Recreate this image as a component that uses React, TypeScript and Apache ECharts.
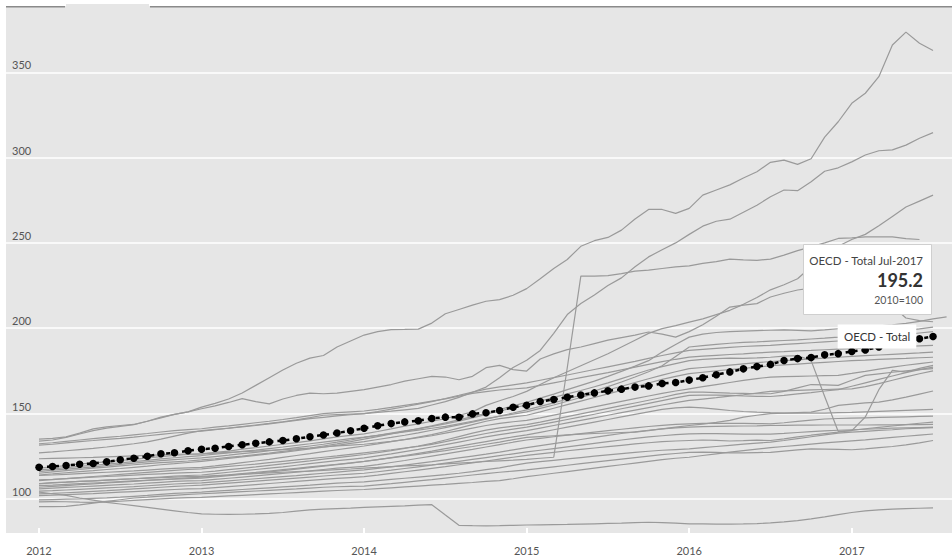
import { useEffect, useRef } from "react";
import * as echarts from "echarts";

// ---- axis / label data ----
const startYear = 2012;
const monthNames = ["Jan", "Feb", "Mar", "Apr", "May", "Jun", "Jul", "Aug", "Sep", "Oct", "Nov", "Dec"];
const yearTicks = [0, 12, 24, 36, 48, 60];
const gridValues = [100, 150, 200, 250, 300, 350];
const baseNote = "2010=100";
const totalName = "OECD - Total";

// ---- OECD total (monthly from Jan-2012) ----
const oecd = [
  118.5, 119, 119.5, 120.3, 120.7, 121.7, 122.9, 123.8, 125, 126.4, 127, 128.2,
  129.1, 129.7, 130.7, 131.7, 132.6, 133.4, 134.2, 135.2, 136.4, 137.4, 138.6, 139.9,
  141.4, 142.9, 144.1, 145.1, 145.8, 147.1, 147.9, 147.8, 149.8, 150.5, 151.8, 153.7,
  154.8, 157.1, 158.2, 159.6, 160.9, 162.1, 163.3, 164.3, 165.5, 166.2, 167.6, 168.2,
  169.6, 171, 172.7, 174.4, 176.2, 177.5, 178.8, 181.1, 182.2, 182.8, 184.4, 185.1,
  186.4, 187.2, 189, 190.6, 192.2, 193.8, 195.2,
];

// ---- individual countries (monthly from Jan-2012) ----
const lineA = [
  135, 135.5, 136.3, 138.5, 141, 142.2, 143, 143.6, 145.5, 147.9, 149.5, 151,
  153.8, 156, 158.5, 162, 166.5, 171, 175.5, 179.5, 182.5, 184, 189, 192.5,
  196, 198, 199.2, 199.3, 199.5, 203, 208.5, 211, 213.5, 215.8, 216.8, 219.3,
  223.2, 229, 235, 240.3, 248, 251.3, 253.2, 257.5, 264, 269.6, 269.6, 267.3,
  270.2, 278, 281, 284, 288, 291.7, 297.2, 298.5, 296, 299.3, 312, 321,
  331.8, 337.7, 347.4, 366, 373.5, 367, 362.7,
];
const lineB = [
  127, 127.5, 128.2, 128.9, 129.6, 130.4, 131.3, 132.3, 133.4, 135, 136.8, 138.5,
  140, 140.7, 141.4, 142.2, 143, 144, 145, 146, 147, 147.8, 148.6, 149.3,
  150, 150.7, 151.4, 152.2, 153, 155, 157, 159.5, 162.5, 165.5, 171, 177,
  181.2, 187, 197, 208, 214.5, 219.5, 225, 229.5, 236, 241.8, 246, 250,
  255, 259.8, 262.7, 263.9, 268, 272.1, 277, 281, 280.6, 285.8, 292, 294,
  297.5, 301.5, 304, 304.5, 307.3, 311.3, 314.6,
];
const lineC = [
  118, 118.8, 119.5, 120.5, 121, 121.8, 122.5, 123.2, 124, 124.8, 125.5, 126,
  126.4, 127.3, 128, 129.2, 130, 131, 132, 133, 134, 135.2, 136.3, 137.2,
  138.1, 139.5, 141, 142.6, 144, 145.5, 147, 149, 151, 154.8, 157.5, 160,
  163, 167, 171, 174.5, 178, 181.5, 185, 189, 193, 197, 199.8, 201.5,
  203.6, 205.5, 208, 210.5, 214, 218, 222.5, 225.5, 229, 236, 243, 248,
  252, 255, 260, 265.5, 271, 274.5, 278,
];
const lineD = [
  108.8, 109.5, 109.8, 110.3, 110.6, 111, 111.4, 111.8, 112.2, 112.5, 112.7, 113,
  113.2, 113.6, 114, 114.5, 114.8, 115.2, 115.6, 116, 116.3, 116.7, 117.1, 117.5,
  118, 118.4, 118.9, 119.3, 119.6, 120, 120.5, 121, 121.4, 121.9, 122.3, 122.7,
  123.2, 123.8, 124.4, 177, 230.5, 230.5, 230.8, 232, 233.5, 234, 235, 236,
  236.5, 238, 239, 240.5, 240, 239.8, 240.5, 242.8, 245.5, 247.7, 250, 252.6,
  253, 253.5, 253.5, 253.5, 252.5, 252,
];
const lineE = [
  104, 103, 102, 100.5, 99.3, 98, 97, 96, 95, 94, 93, 92,
  91.2, 91, 90.9, 91, 91.2, 91.5, 92, 92.8, 93.5, 94, 94.3, 94.6,
  95, 95.3, 95.6, 95.9, 96.3, 96.6, 90.5, 84.5, 84.3, 84.2, 84.3, 84.5,
  84.7, 84.8, 84.9, 85, 85.2, 85.4, 85.6, 85.8, 86.1, 86.3, 86.1, 85.8,
  85.4, 85.3, 85.2, 85.2, 85.3, 85.5, 85.9, 86.5, 87.3, 88.3, 89.5, 90.8,
  92, 93, 93.6, 94, 94.3, 94.5, 94.7,
];
const lineF = [
  116, 116.8, 117.4, 118, 118.8, 119.5, 120.2, 121, 121.7, 122.4, 123, 123.5,
  124, 124.8, 125.6, 126.5, 127.3, 128.2, 129, 130, 131, 132, 133.2, 134.5,
  136, 137.2, 138.5, 139.8, 141, 142.5, 144, 145.6, 147.5, 149.5, 151.5, 153.3,
  155, 157.2, 159.5, 161.5, 163.5, 165.7, 168, 170.5, 173, 175.5, 177.5, 179.3,
  181, 181.8, 182.2, 182.5, 182.3, 182.6, 183, 183.6, 184, 181, 160, 139.5,
  140, 148, 164, 175.3, 174.3, 176.5, 178.2,
];
const lineI = [
  133.8, 134.5, 136, 138, 140, 141.5, 142.5, 143.5, 145.5, 147.5, 149.5, 151,
  152.8, 154.5, 156.5, 158.7, 157, 155.7, 158.5, 160.6, 162, 161.6, 162, 163,
  164, 165.5, 167, 169, 170.4, 171.8, 171.4, 169.8, 171.8, 176.9, 178.2, 175.7,
  174.9, 182, 185, 187.5, 189, 191, 193, 194.5, 196, 197.8, 196.5, 194.8,
  198, 202, 207, 212.4, 213.5, 214.4, 218.3, 220.5, 222.4, 223.5, 224.2, 225,
  224, 222, 218, 213, 206, 204.5, 203.8,
];
const lineJ = [
  115, 115.8, 116.5, 117.2, 118, 118.6, 119.3, 120, 120.6, 121.2, 121.7, 122.2,
  122.8, 123.5, 124.3, 125, 125.9, 126.8, 127.8, 128.8, 129.8, 131, 132.2, 133.5,
  135, 136.5, 138, 139.6, 141.2, 142.8, 144.5, 146.3, 148.2, 150.2, 152.3, 154.5,
  156.6, 159, 161.4, 164, 166.5, 169, 171.8, 174.7, 177.8, 181, 186, 190.5,
  194.8, 196.5, 197.5, 198, 198.3, 198.6, 198.8, 199, 198.7, 198.4, 199, 199.7,
  200.2, 200.8, 201.4, 202, 202.8, 204, 205.5, 206.6,
];
const lineK = [
  114, 114.6, 115.3, 116, 116.5, 117.2, 117.8, 118.5, 119.2, 120, 120.6, 121.3,
  122, 122.8, 123.7, 124.6, 125.5, 126.4, 127.3, 128.3, 129.3, 130.3, 131.4, 132.5,
  133.6, 134.8, 136, 137.3, 138.7, 140.2, 141.8, 143.4, 145, 146.7, 148.5, 150.3,
  152.2, 154.2, 156.3, 158.5, 160.8, 163.2, 165.8, 168.5, 171.4, 174.5, 178, 183.5,
  189, 189.8, 190.5, 191.2, 191.7, 192, 192.4, 192.8, 193.2, 193.7, 194.2, 194.8,
  195.5, 196.3, 197, 197.8, 198.6, 199.6, 200.7,
];
const lineN = [
  131.5, 132, 132.8, 133.6, 134.2, 134.9, 135.5, 136.2, 137, 137.8, 138.6, 139.2,
  139.7, 140.5, 141.5, 142.4, 143.3, 144.2, 145.2, 146.3, 147.6, 149, 149.4, 149.7,
  150, 151.2, 152.6, 154, 155.5, 157, 158.8, 160.7, 162.6, 164.3, 165.6, 166.8,
  168, 169.5, 171, 172.6, 174.2, 175.8, 177.4, 179, 180.6, 182.3, 184, 185.6,
  187, 187.6, 188.2, 188.8, 189.3, 189.7, 190, 190.5, 191, 191.5, 192, 192.5,
  193, 193.8, 194.6, 195.4, 196.3, 197.2, 198,
];
const lineO = [
  132.3, 132.9, 133.7, 134.5, 135.3, 136, 136.7, 137.5, 138.3, 139.2, 140, 140.6,
  141.1, 142, 142.8, 143.7, 144.6, 145.5, 146.5, 147.6, 148.8, 150, 150.5, 151,
  151.5, 152.5, 153.6, 154.8, 156, 157.3, 158.6, 160.2, 161.8, 162.9, 163.8, 164.4,
  165, 166.5, 168, 169.5, 171, 172.5, 174, 175.6, 177.2, 178.8, 180.4, 181.8,
  183.1, 183.6, 184.1, 184.6, 185, 185.5, 186, 186.3, 186.7, 187, 187.4, 187.7,
  188, 188.3, 188.6, 189, 189.3, 189.7, 190,
];
const lineL = [
  117, 117.6, 118.3, 119, 119.7, 120.4, 121.1, 121.8, 122.6, 123.4, 124.1, 124.8,
  125.4, 126.2, 127, 127.8, 128.6, 129.5, 130.4, 131.4, 132.3, 133.3, 134.3, 135.3,
  136.2, 137.2, 138.2, 139.2, 140.3, 141.4, 142.5, 144, 145.5, 147, 148.4, 149.7,
  151, 153, 155, 157.2, 159.4, 161.6, 163.8, 166, 168.2, 170.4, 172.5, 174.5,
  176.3, 177, 177.7, 178.4, 179.1, 179.8, 180.5, 181, 181.5, 182, 182.5, 183,
  183.5, 183.9, 184.3, 184.7, 185.1, 185.5, 186,
];
const lineM = [
  113.7, 114, 114.4, 114.8, 115.2, 115.6, 116, 116.4, 116.9, 117.4, 117.9, 118.2,
  118.5, 119.3, 120.2, 121.2, 122.2, 123.2, 124.3, 125.4, 126.5, 127.7, 128.8, 129.9,
  131, 132.2, 133.5, 134.8, 136.2, 137.6, 139.5, 141.5, 143.5, 145.5, 147, 148,
  149, 151, 153.1, 155.2, 157.3, 159.4, 161.5, 163.6, 165.7, 167.9, 170, 171.8,
  173.4, 174.2, 175, 175.8, 176.5, 177.2, 178, 178.5, 179, 179.5, 180, 180.5,
  181, 181.3, 181.7, 182, 182.3, 182.7, 183,
];
const lineP = [
  123.5, 123.7, 123.9, 124.1, 124.3, 124.6, 124.9, 125.2, 125.5, 125.8, 126.1, 126.3,
  126.4, 126.8, 127.2, 127.6, 128, 128.4, 128.8, 129.3, 129.8, 130.4, 131, 131.5,
  132, 132.8, 133.7, 134.7, 135.8, 137, 138.5, 140, 141.5, 143, 144.2, 145.2,
  146, 147.5, 149.1, 150.7, 152.3, 153.9, 155.5, 157.1, 158.7, 160.3, 161.8, 163.2,
  164.5, 165.8, 167, 168.2, 169.4, 170.5, 171.4, 171.6, 171.8, 172, 172.2, 172.4,
  173.5, 174.7, 176, 177.2, 178.3, 179.3, 180.2,
];
const lineQ = [
  111.2, 111.5, 111.9, 112.3, 112.7, 113.1, 113.5, 113.9, 114.3, 114.7, 115.1, 115.4,
  115.6, 116.3, 117.1, 117.9, 118.7, 119.6, 120.5, 121.4, 122.3, 123.3, 124.2, 125.1,
  126, 127.1, 128.3, 129.6, 131, 132.5, 134.5, 136.5, 138.5, 140.3, 141.6, 142.6,
  143.5, 145, 146.6, 148.2, 149.8, 151.4, 153, 154.6, 156.2, 157.8, 159.4, 161.2,
  162.6, 162.6, 162.3, 162, 161.8, 161.6, 161.6, 163, 165, 167, 166.8, 166.5,
  169.5, 172.4, 173.3, 174.2, 175, 175.7, 176.3,
];
const lineR = [
  110.7, 111.3, 111.9, 112.5, 113.1, 113.7, 114.3, 114.9, 115.5, 116.1, 116.7, 117.2,
  117.6, 118.3, 119, 119.7, 120.4, 121.2, 122, 122.8, 123.6, 124.4, 125.2, 126.1,
  127, 127.9, 128.8, 129.8, 130.8, 131.9, 133.5, 135.2, 136.8, 138.3, 139.7, 140.9,
  142, 143.5, 145, 146.5, 148, 149.6, 151.2, 152.8, 154.4, 156, 157.6, 159.2,
  160.6, 160.8, 160.8, 160.6, 160.3, 160.1, 160, 160.7, 161.5, 162.3, 163.2, 164,
  166, 168, 170, 172, 174, 175.7, 177.2,
];
const lineT1 = [
  109, 109.4, 109.8, 110.2, 110.6, 111, 111.4, 111.8, 112.3, 112.8, 113.3, 113.7,
  114, 114.8, 115.6, 116.4, 117.2, 118, 118.8, 119.7, 120.6, 121.5, 122.4, 123.2,
  124, 125.2, 126.4, 127.7, 129, 130.4, 131.8, 133.3, 134.8, 136.3, 137.6, 138.8,
  140, 141.5, 143, 144.5, 146, 147.5, 149, 150.5, 152, 153.5, 155, 156.4,
  157.7, 158.5, 159.3, 160.2, 161, 162, 163, 163.3, 163.6, 163.9, 164.1, 164.3,
  164.5, 165.8, 167.5, 169.5, 171.5, 173.3, 175,
];
const lineT2 = [
  107.8, 108.1, 108.5, 108.9, 109.3, 109.7, 110.1, 110.5, 110.9, 111.3, 111.6, 111.9,
  112.2, 112.9, 113.6, 114.3, 115, 115.8, 116.6, 117.4, 118.3, 119.2, 120.1, 121,
  121.9, 123, 124.2, 125.4, 126.7, 128, 129.4, 130.8, 132.2, 133.6, 135, 136.3,
  137.5, 139, 140.5, 142, 143.5, 145, 146.5, 148, 149.5, 151, 152.4, 153.3,
  153.8, 153.3, 152.6, 151.8, 151.2, 150.8, 150.5, 150.3, 150.2, 150.2, 150.3, 150.5,
  150.7, 151, 151.3, 151.6, 151.9, 152.2, 152.5,
];
const lineU = [
  106.8, 107.3, 107.8, 108.3, 108.8, 109.3, 109.8, 110.3, 110.8, 111.3, 111.8, 112.3,
  112.7, 113.4, 114.1, 114.8, 115.5, 116.3, 117.1, 117.9, 118.7, 119.5, 120.3, 121.1,
  122, 123, 124, 125, 126.1, 127.2, 128.3, 129.5, 130.7, 132, 133.3, 134.7,
  136, 136.5, 137, 137.5, 137.9, 138.3, 138.6, 138.9, 139.1, 140, 141, 142,
  143, 143.8, 144.8, 146, 147.9, 149, 149.9, 150.2, 150.5, 150.8, 152.5, 154.8,
  155.5, 156.2, 156.7, 158, 159.6, 161.4, 163.2,
];
const lineT3 = [
  105.9, 106.3, 106.7, 107.1, 107.5, 107.9, 108.3, 108.7, 109.2, 109.7, 110.2, 110.5,
  110.7, 111.4, 112.1, 112.8, 113.5, 114.2, 114.9, 115.6, 116.4, 117.2, 118, 118.5,
  119, 120.1, 121.3, 122.5, 123.8, 125.1, 126.4, 127.7, 129, 130.4, 131.8, 133.2,
  134.5, 135.5, 136.4, 137.3, 138.2, 139.1, 140, 140.8, 141.6, 142.4, 143.1, 143.6,
  144, 144.2, 144.3, 144.3, 144.2, 144.1, 144, 144.6, 145.4, 146.2, 146.8, 147.1,
  147.3, 147.5, 147.7, 147.9, 148.1, 148.3, 148.5,
];
const lineV = [
  104.5, 104.8, 105.2, 105.6, 106, 106.4, 106.8, 107.2, 107.7, 108.2, 108.7, 109.1,
  109.4, 110, 110.6, 111.2, 111.8, 112.4, 113, 113.6, 114.3, 115, 115.7, 116.4,
  117, 117.9, 118.8, 119.8, 120.8, 121.8, 122.9, 124, 125.1, 126.2, 127.4, 128.7,
  130, 131.2, 132.4, 133.6, 134.8, 136, 137.2, 138.3, 139.3, 140.2, 141, 141.6,
  142, 142.3, 142.5, 142.6, 142.7, 142.8, 143, 143.1, 143.2, 143.2, 143.3, 143.3,
  143.3, 143.3, 143.4, 143.4, 143.5, 143.5, 143.6,
];
const lineW = [
  102.9, 103.2, 103.6, 104, 104.4, 104.8, 105.3, 105.8, 106.3, 106.8, 107.3, 107.7,
  108, 108.6, 109.2, 109.8, 110.4, 111, 111.6, 112.2, 112.8, 113.4, 114, 114.5,
  115, 115.9, 116.8, 117.8, 118.8, 119.8, 120.9, 122, 123.1, 124.2, 125.3, 126.4,
  127.5, 128.5, 129.5, 130.5, 131.5, 132.5, 133.5, 134.5, 135.4, 136.3, 137, 137.6,
  138.1, 138.2, 138.2, 138.1, 138, 138, 138, 138.4, 138.9, 139.4, 139.8, 140.2,
  140.5, 140.8, 141.1, 141.4, 141.6, 141.8, 142,
];
const lineX = [
  101.9, 102.2, 102.5, 102.8, 103.1, 103.5, 103.9, 104.3, 104.7, 105.1, 105.5, 105.8,
  106, 106.6, 107.2, 107.8, 108.4, 109, 109.6, 110.2, 110.8, 111.4, 112, 112.5,
  113, 113.9, 114.9, 115.9, 116.9, 117.9, 118.9, 120, 121.1, 122.2, 123.3, 124.4,
  125.5, 126.4, 127.3, 128.2, 129, 129.8, 130.6, 131.4, 132.2, 132.9, 133.5, 133.9,
  134.2, 134.5, 134.3, 133.9, 134.1, 134.4, 134.2, 135.2, 136.3, 137.3, 138.2, 139.1,
  140.1, 141.1, 141.9, 142.7, 143.5, 144.3, 145,
];
const lineY = [
  99.4, 99.6, 99.8, 100, 100.3, 100.6, 101, 101.5, 102, 102.6, 103.2, 103.6,
  104, 104.5, 105, 105.5, 106, 106.5, 107, 107.5, 108, 108.6, 109.2, 109.6,
  110, 110.7, 111.4, 112.1, 112.8, 113.5, 114.2, 115, 116, 117.1, 118.2, 119.6,
  121, 121.8, 122.6, 123.4, 124.2, 125, 125.8, 126.5, 127.2, 127.9, 128.5, 128.9,
  129.3, 130, 130.7, 131.4, 132.1, 132.7, 133.2, 134.2, 135.3, 136.4, 137.5, 138.5,
  139.1, 139.6, 140.1, 140.5, 141.1, 141.4, 141.7,
];
const lineZ = [
  95.5, 95.4, 95.6, 96.5, 97.5, 98.5, 99.5, 100.5, 101, 101.6, 102.1, 102.6,
  103, 103.4, 103.8, 104.2, 104.6, 105, 105.4, 105.8, 106.3, 106.8, 107.1, 107.3,
  107.5, 108.2, 108.9, 109.7, 110.5, 111.3, 112.2, 113.1, 114, 114.8, 115.6, 116.3,
  117, 117.9, 118.8, 119.7, 120.6, 121.5, 122.4, 123.3, 124.2, 125.1, 125.9, 126.6,
  127.3, 127.4, 127.2, 127, 126.9, 127.1, 127.3, 128, 128.7, 129.3, 129.2, 129,
  128.8, 129.3, 130, 130.7, 131.6, 132.8, 134.2,
];
const lineZ2 = [
  98.2, 98.4, 98.3, 98.1, 98, 98.2, 98.6, 99.1, 99.6, 100, 100.4, 100.7,
  100.9, 101.3, 101.7, 102.1, 102.5, 102.9, 103.3, 103.7, 104.1, 104.5, 104.9, 105.2,
  105.5, 106, 106.5, 107, 107.5, 108, 108.5, 109.1, 109.6, 110.2, 110.7, 111.8,
  113, 114, 115, 116, 117, 118, 119, 120, 121, 122, 123, 123.8,
  124.4, 125.4, 126.4, 127.4, 128.3, 129.2, 130, 130.7, 131.4, 132.1, 132.8, 133.4,
  134, 134.6, 135.3, 136, 136.7, 137.4, 138,
];

const countryLines = [
  lineE, lineZ, lineZ2, lineY, lineX, lineW, lineV, lineT3, lineU, lineT2, lineT1,
  lineR, lineQ, lineP, lineM, lineL, lineO, lineN, lineK, lineJ, lineI, lineF,
  lineD, lineC, lineB, lineA,
];

const toPoints = (arr: number[]) => arr.map((v, i) => [i, v]);

export default function App() {
  const ref = useRef<HTMLDivElement>(null);

  useEffect(() => {
    if (!ref.current) return;
    const chart = echarts.init(ref.current, undefined, { renderer: "svg" });

    const lastIdx = oecd.length - 1;
    const lastVal = oecd[lastIdx];
    const lastLabel = `${monthNames[lastIdx % 12]}-${startYear + Math.floor(lastIdx / 12)}`;
    const font = "Lato, 'Open Sans', sans-serif";
    const clear = "rgba(0,0,0,0)";

    const graySeries = countryLines.map((arr) => ({
      type: "line",
      data: toPoints(arr),
      showSymbol: false,
      symbol: "none",
      silent: true,
      z: 2,
      lineStyle: { color: "#9a9a9a", width: 1.2 },
    }));

    const oecdData: any[] = toPoints(oecd);
    oecdData[lastIdx] = {
      value: oecdData[lastIdx],
      label: {
        show: true,
        position: "left",
        distance: 13,
        formatter: totalName,
        backgroundColor: "#ffffff",
        padding: [6, 6, 5, 6],
        color: "#333",
        fontSize: 11.5,
        lineHeight: 13,
        fontFamily: font,
      },
    };

    chart.setOption({
      animation: false,
      backgroundColor: "#ffffff",
      grid: {
        left: 6,
        right: 0,
        top: 4,
        bottom: 26,
        show: true,
        backgroundColor: "#e6e6e6",
        borderWidth: 0,
        containLabel: false,
      },
      xAxis: {
        type: "value",
        min: -2.436,
        max: 67.4,
        axisLine: { show: false },
        splitLine: { show: false },
        axisTick: {
          show: true,
          inside: true,
          length: 5,
          customValues: yearTicks,
          lineStyle: { color: "#ffffff", width: 2 },
        },
        axisLabel: {
          customValues: yearTicks,
          formatter: (v: number) => String(startYear + Math.round(v / 12)),
          margin: 12,
          color: "#555",
          fontSize: 11,
          fontFamily: font,
        },
      },
      yAxis: {
        type: "value",
        min: 80,
        max: 390,
        interval: 10,
        axisLine: { show: false },
        axisTick: { show: false },
        splitLine: {
          show: true,
          lineStyle: { color: [clear, clear, "#ffffff", clear, clear], width: 1.5 },
        },
        axisLabel: {
          inside: true,
          margin: 6,
          align: "left",
          verticalAlign: "bottom",
          padding: [0, 0, 2, 0],
          formatter: (v: number) => (gridValues.includes(v) ? String(v) : ""),
          color: "#555",
          fontSize: 11,
          fontFamily: font,
        },
      },
      series: [
        ...graySeries,
        {
          type: "line",
          name: totalName,
          data: oecdData,
          symbol: "circle",
          symbolSize: 7.5,
          showSymbol: true,
          z: 10,
          itemStyle: { color: "#000000" },
          lineStyle: { color: "#000000", width: 2.5, type: [4, 4] },
        },
      ],
      graphic: [
        { type: "rect", z: 100, shape: { x: 6, y: 0, width: 60, height: 6 }, style: { fill: "#ffffff" } },
        { type: "rect", z: 100, shape: { x: 149, y: 0, width: 803, height: 6 }, style: { fill: "#ffffff" } },
        { type: "line", z: 101, shape: { x1: 6, y1: 6.8, x2: 65, y2: 6.8 }, style: { stroke: "#8a8a8a", lineWidth: 1.5 } },
        { type: "line", z: 101, shape: { x1: 150, y1: 6.8, x2: 952, y2: 6.8 }, style: { stroke: "#8a8a8a", lineWidth: 1.5 } },
        {
          type: "rect",
          z: 100,
          shape: { x: 803.5, y: 244.5, width: 128, height: 70 },
          style: { fill: "#ffffff", stroke: "#cfcfcf", lineWidth: 1 },
        },
        {
          type: "text",
          z: 101,
          x: 923,
          y: 260,
          style: {
            text: `${totalName} ${lastLabel}`,
            align: "right",
            verticalAlign: "middle",
            fill: "#444",
            fontSize: 11.5,
            fontFamily: font,
          },
        },
        {
          type: "text",
          z: 101,
          x: 923,
          y: 280,
          style: {
            text: lastVal.toFixed(1),
            align: "right",
            verticalAlign: "middle",
            fill: "#333",
            fontSize: 18,
            fontWeight: "bold",
            fontFamily: font,
          },
        },
        {
          type: "text",
          z: 101,
          x: 923,
          y: 300,
          style: {
            text: baseNote,
            align: "right",
            verticalAlign: "middle",
            fill: "#555",
            fontSize: 10.5,
            fontFamily: font,
          },
        },
      ],
    });

    return () => chart.dispose();
  }, []);

  return (
    <div
      ref={ref}
      style={{ position: "absolute", left: 0, top: 0, width: 952, height: 559 }}
    />
  );
}
